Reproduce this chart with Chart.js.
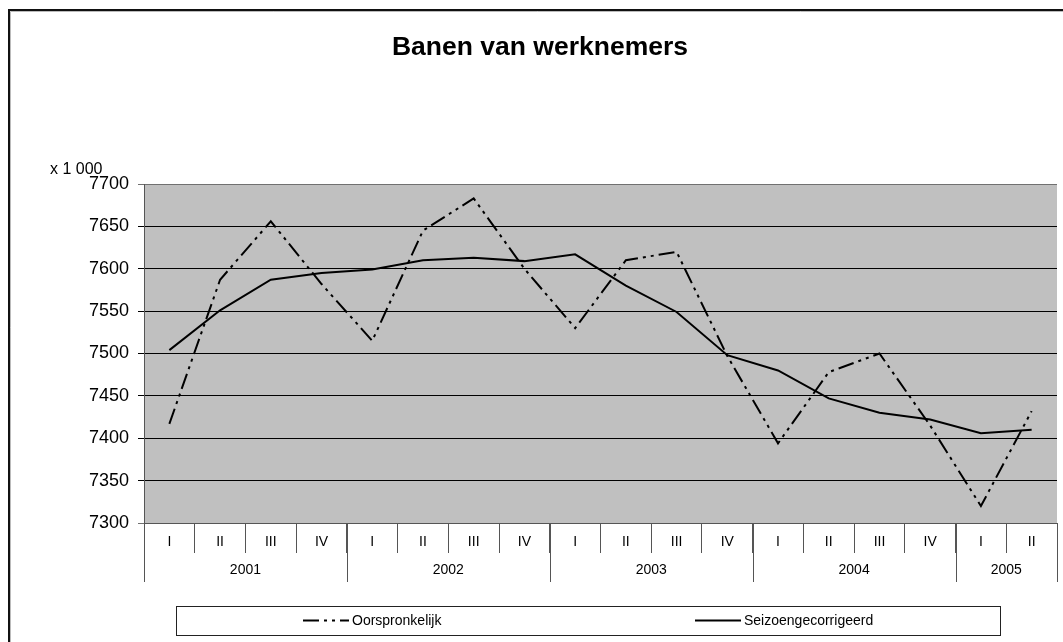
<!DOCTYPE html>
<html>
<head>
<meta charset="utf-8">
<script src="https://cdn.jsdelivr.net/npm/chart.js@4/dist/chart.umd.min.js"></script>
<style>
  html, body { margin: 0; padding: 0; background: #fff; }
  #wrap { width: 1063px; height: 642px; position: relative; }
</style>
</head>
<body>
<div id="wrap"><canvas id="c" width="1063" height="642"></canvas></div>
<script>
// ---- data ----
const quarters = ['I','II','III','IV','I','II','III','IV','I','II','III','IV','I','II','III','IV','I','II'];
const years = ['2001','2002','2003','2004','2005'];
const quartersPerYear = [4, 4, 4, 4, 2];
const oorspronkelijk = [7417, 7587, 7656, 7582, 7515, 7645, 7683, 7600, 7530, 7610, 7620, 7497, 7394, 7478, 7500, 7415, 7320, 7432];
const seizoengecorrigeerd = [7504, 7551, 7587, 7595, 7599, 7610, 7613, 7609, 7617, 7580, 7549, 7498, 7480, 7447, 7430, 7422, 7406, 7410];
const seriesNames = ['Oorspronkelijk', 'Seizoengecorrigeerd'];
const titleText = 'Banen van werknemers';
const unitText = 'x 1 000';
const yMin = 7300, yMax = 7700, yStep = 50;

const FONT = '"Liberation Sans", Arial, sans-serif';
const DASH = [16, 5, 3, 5, 3, 5];

const decorations = {
  id: 'decorations',
  beforeDraw(chart) {
    const ctx = chart.ctx, a = chart.chartArea;
    ctx.save();
    // outer frame
    ctx.strokeStyle = '#111';
    ctx.lineWidth = 2;
    ctx.beginPath();
    ctx.moveTo(9, 700); ctx.lineTo(9, 10); ctx.lineTo(1100, 10);
    ctx.stroke();
    ctx.strokeStyle = '#bbb';
    ctx.lineWidth = 1;
    ctx.beginPath();
    ctx.moveTo(10.5, 700); ctx.lineTo(10.5, 11.5); ctx.lineTo(1100, 11.5);
    ctx.stroke();
    // plot background
    ctx.fillStyle = '#C0C0C0';
    ctx.fillRect(a.left, a.top, a.right - a.left, a.bottom - a.top);
    // title
    ctx.fillStyle = '#000';
    ctx.font = 'bold 26.5px ' + FONT;
    ctx.textAlign = 'center';
    ctx.textBaseline = 'middle';
    ctx.fillText(titleText, 540, 48);
    // unit
    ctx.font = '16px ' + FONT;
    ctx.textAlign = 'left';
    ctx.fillText(unitText, 50, 170);
    ctx.restore();
  },
  afterDraw(chart) {
    const ctx = chart.ctx, a = chart.chartArea, xs = chart.scales.x;
    ctx.save();
    // year separators and labels
    ctx.strokeStyle = '#555';
    ctx.lineWidth = 1;
    ctx.fillStyle = '#000';
    ctx.font = '14px ' + FONT;
    ctx.textAlign = 'center';
    ctx.textBaseline = 'middle';
    let idx = 0;
    const half = (xs.getPixelForValue(1) - xs.getPixelForValue(0)) / 2;
    for (let i = 0; i <= years.length; i++) {
      const xb = i === 0 ? xs.getPixelForValue(0) - half : xs.getPixelForValue(idx - 1) + half;
      const px = Math.round(xb) + 0.5;
      ctx.beginPath(); ctx.moveTo(px, a.bottom); ctx.lineTo(px, a.bottom + 59); ctx.stroke();
      if (i < years.length) {
        const start = idx, end = idx + quartersPerYear[i] - 1;
        const cx = (xs.getPixelForValue(start) + xs.getPixelForValue(end)) / 2;
        ctx.fillText(years[i], cx, a.bottom + 47.5);
        idx += quartersPerYear[i];
      }
    }
    // legend
    const lx0 = 176, ly0 = 606, lx1 = 1000, ly1 = 635;
    ctx.strokeStyle = '#222';
    ctx.strokeRect(lx0 + 0.5, ly0 + 0.5, lx1 - lx0, ly1 - ly0);
    const ly = (ly0 + ly1) / 2;
    const items = [{x: 303, ds: chart.data.datasets[0]}, {x: 695, ds: chart.data.datasets[1]}];
    ctx.textAlign = 'left';
    items.forEach(it => {
      ctx.strokeStyle = it.ds.borderColor;
      ctx.lineWidth = 2;
      ctx.setLineDash(it.ds.borderDash || []);
      ctx.beginPath(); ctx.moveTo(it.x, ly); ctx.lineTo(it.x + 46, ly); ctx.stroke();
      ctx.setLineDash([]);
      ctx.fillText(it.ds.label, it.x + 49, ly + 1);
    });
    ctx.restore();
  }
};

new Chart(document.getElementById('c'), {
  type: 'line',
  data: {
    labels: quarters,
    datasets: [
      { label: seriesNames[0], data: oorspronkelijk, borderColor: '#000', borderWidth: 2, borderDash: DASH,
        pointRadius: 0, tension: 0, fill: false },
      { label: seriesNames[1], data: seizoengecorrigeerd, borderColor: '#000', borderWidth: 2,
        pointRadius: 0, tension: 0, fill: false }
    ]
  },
  options: {
    responsive: false,
    animation: false,
    devicePixelRatio: 1,
    layout: { padding: { top: 184, right: 6, left: 0, bottom: 0 } },
    plugins: { legend: { display: false }, title: { display: false }, tooltip: { enabled: false } },
    scales: {
      x: {
        type: 'category',
        offset: true,
        afterFit(s) { s.height = 119; },
        grid: { offset: true, drawOnChartArea: false, drawTicks: true, tickLength: 30, color: '#555' },
        border: { display: true, color: '#555' },
        ticks: { color: '#000', font: { family: FONT, size: 14 }, padding: -19, maxRotation: 0, autoSkip: false }
      },
      y: {
        min: yMin, max: yMax,
        afterFit(s) { s.width = 144; },
        ticks: { stepSize: yStep, color: '#000', font: { family: FONT, size: 18 }, padding: 9,
                 callback: (v) => String(v) },
        grid: {
          color: (c) => (c.tick && (c.tick.value === yMax || c.tick.value === yMin)) ? '#707070' : '#000',
          tickLength: 6, lineWidth: 1
        },
        border: { display: true, color: '#555' }
      }
    }
  },
  plugins: [decorations]
});
</script>
</body>
</html>
